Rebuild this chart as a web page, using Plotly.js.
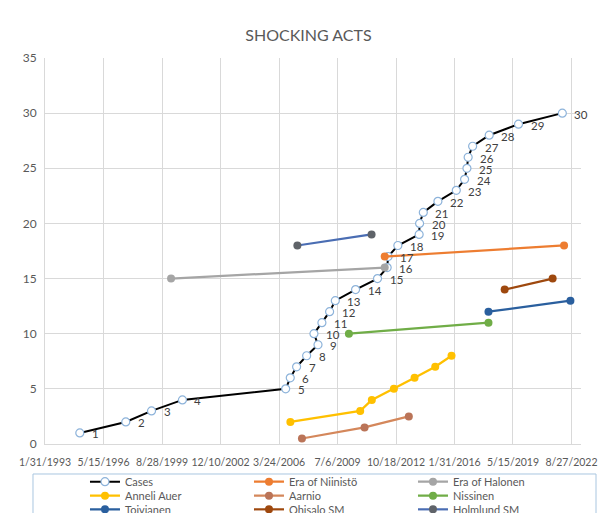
<!DOCTYPE html>
<html>
<head>
<meta charset="utf-8">
<script src="https://cdn.plot.ly/plotly-3.0.1.min.js"></script>
<style>html,body{margin:0;padding:0;background:#fff;}#chart{width:614px;height:513px;}</style>
</head>
<body>
<div id="chart"></div>
<script>
// ---- data ----
const caseDates = ['1995-01-15','1997-08-15','1999-01-25','2000-10-20','2006-08-08','2006-11-10','2007-03-20','2007-10-12','2008-06-01','2008-03-10','2008-08-20','2009-01-25','2009-05-22','2010-07-12','2011-10-05','2012-04-20','2012-05-10','2012-11-25','2014-02-05','2014-02-14','2014-05-01','2015-02-25','2016-03-08','2016-08-25','2016-10-12','2016-11-06','2017-02-06','2018-01-12','2019-09-05','2022-02-20'];
const caseValues = [1,2,3,4,5,6,7,8,9,10,11,12,13,14,15,16,17,18,19,20,21,22,23,24,25,26,27,28,29,30];
const caseLabels = ['1','2','3','4','5','6','7','8','9','10','11','12','13','14','15','16','17','18','19','20','21','22','23','24','25','26','27','28','29','30'];

const niinistoDates = ['2012-03-01','2022-03-28'];
const niinistoValues = [17,18];
const halonenDates = ['2000-03-01','2012-03-01'];
const halonenValues = [15,16];
const auerDates = ['2006-11-12','2010-10-15','2011-06-10','2012-09-05','2013-11-03','2015-01-01','2015-12-01'];
const auerValues = [2,3,4,5,6,7,8];
const aarnioDates = ['2007-07-08','2011-01-12','2013-07-08'];
const aarnioValues = [0.5,1.5,2.5];
const nissinenDates = ['2010-02-25','2017-12-28'];
const nissinenValues = [10,11];
const toivianenDates = ['2017-12-28','2022-08-05'];
const toivianenValues = [12,13];
const ohisaloDates = ['2018-11-25','2021-08-05'];
const ohisaloValues = [14,15];
const holmlundDates = ['2007-04-05','2011-06-05'];
const holmlundValues = [18,19];

const xTickVals = ['1993-01-31','1996-05-15','1999-08-28','2002-12-10','2006-03-24','2009-07-06','2012-10-18','2016-01-31','2019-05-15','2022-08-27'];
const xTickText = ['1/31/1993','5/15/1996','8/28/1999','12/10/2002','3/24/2006','7/6/2009','10/18/2012','1/31/2016','5/15/2019','8/27/2022'];

// ---- styling ----
const FONT = 'Lato, "Open Sans", sans-serif';
const TXT = '#595959';

function series(name, x, y, lineColor, markerColor, legendId) {
  return {
    type: 'scatter', mode: 'lines+markers', name: name, x: x, y: y,
    line: {color: lineColor, width: 2.25},
    marker: {color: markerColor, size: 8, line: {color: markerColor, width: 0}},
    legend: legendId, hoverinfo: 'skip'
  };
}

const traces = [
  {
    type: 'scatter', mode: 'lines+markers', name: 'Cases', x: caseDates, y: caseValues,
    line: {color: '#000000', width: 2},
    marker: {color: '#ffffff', size: 8, line: {color: '#8DB3DA', width: 1.2}},
    legend: 'legend', hoverinfo: 'skip'
  },
  series('Era of Niinistö', niinistoDates, niinistoValues, '#ED7D31', '#ED7D31', 'legend'),
  series('Era of Halonen', halonenDates, halonenValues, '#A5A5A5', '#A5A5A5', 'legend'),
  series('Anneli Auer', auerDates, auerValues, '#FFC000', '#FFC000', 'legend2'),
  series('Aarnio', aarnioDates, aarnioValues, '#D4875B', '#BA7458', 'legend2'),
  series('Nissinen', nissinenDates, nissinenValues, '#70AD47', '#70AD47', 'legend2'),
  series('Toivianen', toivianenDates, toivianenValues, '#2A5F9E', '#2A5F9E', 'legend3'),
  series('Ohisalo SM', ohisaloDates, ohisaloValues, '#9E480E', '#9E480E', 'legend3'),
  series('Holmlund SM', holmlundDates, holmlundValues, '#4A6DB3', '#5F6369', 'legend3')
];

const labelAnnotations = caseDates.map((d, i) => ({
  x: d, y: caseValues[i], xref: 'x', yref: 'y', text: caseLabels[i],
  showarrow: false, xanchor: 'left', yanchor: 'middle', xshift: 10, yshift: -1,
  font: {family: FONT, size: 11.5, color: '#404040'}
}));

const legendBase = {
  orientation: 'h', xref: 'paper', yref: 'paper', x: 0.0746, xanchor: 'left', yanchor: 'middle',
  entrywidth: 119, entrywidthmode: 'pixels', bgcolor: 'rgba(0,0,0,0)', borderwidth: 0,
  font: {family: FONT, size: 11, color: TXT}
};

const layout = {
  width: 614, height: 513,
  margin: {l: 45, r: 33, t: 58, b: 69, autoexpand: false},
  paper_bgcolor: '#ffffff', plot_bgcolor: '#ffffff',
  font: {family: FONT, color: TXT},
  title: {text: 'SHOCKING ACTS', font: {family: FONT, size: 16, color: TXT},
          xref: 'container', x: 0.5024, xanchor: 'center', yref: 'container', y: 0.9308, yanchor: 'middle'},
  xaxis: {
    type: 'date', range: ['1993-01-31', '2023-03-10'],
    tickmode: 'array', tickvals: xTickVals, ticktext: xTickText,
    showgrid: true, gridcolor: '#D9D9D9', gridwidth: 1,
    showline: true, linecolor: '#D9D9D9', linewidth: 1,
    ticks: 'outside', ticklen: 8, tickcolor: 'rgba(0,0,0,0)',
    tickfont: {family: FONT, size: 10.5, color: TXT}, tickangle: 0, zeroline: false
  },
  yaxis: {
    range: [0, 35], dtick: 5, tick0: 0,
    showgrid: true, gridcolor: '#D9D9D9', gridwidth: 1,
    showline: true, linecolor: '#D9D9D9', linewidth: 1,
    ticks: 'outside', ticklen: 5, tickcolor: 'rgba(0,0,0,0)',
    tickfont: {family: FONT, size: 12, color: TXT}, zeroline: false
  },
  showlegend: true,
  legend: Object.assign({}, legendBase, {y: -0.0977}),
  legend2: Object.assign({}, legendBase, {y: -0.1339}),
  legend3: Object.assign({}, legendBase, {y: -0.1692}),
  shapes: [{
    type: 'rect', xref: 'paper', yref: 'paper', x0: -0.0224, x1: 1.028, y0: -0.0777, y1: -0.25,
    line: {color: '#A9C6E0', width: 1}, fillcolor: 'rgba(0,0,0,0)', layer: 'below'
  }],
  annotations: labelAnnotations
};

Plotly.newPlot('chart', traces, layout, {displayModeBar: false, staticPlot: true});
</script>
</body>
</html>
